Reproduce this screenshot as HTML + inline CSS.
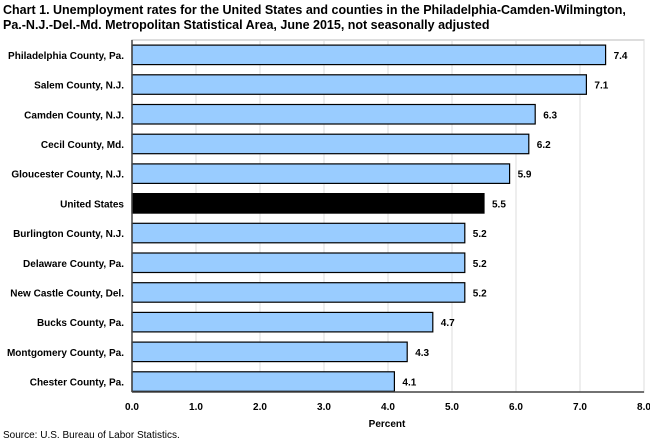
<!DOCTYPE html>
<html><head><meta charset="utf-8"><style>
body{margin:0;background:#fff;font-family:"Liberation Sans",Arial,sans-serif;}
svg text{font-family:"Liberation Sans",Arial,sans-serif;}
</style></head><body>
<svg width="650" height="441" xmlns="http://www.w3.org/2000/svg">
<text x="3" y="14" font-size="12.5" font-weight="bold" fill="#000">Chart 1. Unemployment rates for the United States and counties in the Philadelphia-Camden-Wilmington,</text>
<text x="3" y="29" font-size="12.5" font-weight="bold" fill="#000">Pa.-N.J.-Del.-Md. Metropolitan Statistical Area, June 2015, not seasonally adjusted</text>
<g id="plot"></g>
<text x="387" y="427" font-size="10" font-weight="bold" text-anchor="middle">Percent</text>
<text x="3" y="438" font-size="10">Source: U.S. Bureau of Labor Statistics.</text>
</svg>
<script>
const categories=["Philadelphia County, Pa.","Salem County, N.J.","Camden County, N.J.","Cecil County, Md.","Gloucester County, N.J.","United States","Burlington County, N.J.","Delaware County, Pa.","New Castle County, Del.","Bucks County, Pa.","Montgomery County, Pa.","Chester County, Pa."];
const values=[7.4,7.1,6.3,6.2,5.9,5.5,5.2,5.2,5.2,4.7,4.3,4.1];
const ticks=[0,1,2,3,4,5,6,7,8];
const tickLabels=["0.0","1.0","2.0","3.0","4.0","5.0","6.0","7.0","8.0"];
const ns="http://www.w3.org/2000/svg";
const g=document.getElementById('plot');
const x0=132,x1=644,yTop=40,yBottom=392,band=29.7,barH=19.5;
const xs=v=>x0+(v-0)/(8-0)*(x1-x0);
const ys=i=>yTop+band*(i+0.5);
function mk(t,a){const e=document.createElementNS(ns,t);for(const k in a)e.setAttribute(k,a[k]);g.appendChild(e);return e;}
let r=mk('rect',{x:x0,y:yTop,width:x1-x0,height:yBottom-yTop,fill:'#fff',stroke:'#bbb'});


ticks.forEach((t,i)=>{
 const l=mk('line',{x1:xs(t),x2:xs(t),y1:yTop,y2:yBottom,stroke:'#ddd'});
 
 
 const tx=mk('text',{x:xs(t),y:yBottom+18,'font-size':10,'font-weight':'bold','text-anchor':'middle'});
 tx.textContent=tickLabels[i];
 
 
});
categories.forEach((c,i)=>{
 const y=ys(i);
 const b=mk('rect',{x:x0,y:y-barH/2,width:xs(values[i])-x0,height:barH,fill:c==="United States"?'#000':'#99ccff',stroke:'#000','stroke-width':1.2});
 
 
 const lb=mk('text',{x:x0-8,y:y+4,'font-size':10,'font-weight':'bold','text-anchor':'end'});
 lb.textContent=c;
 
 
 const vl=mk('text',{x:xs(values[i])+8,y:y+4,'font-size':10,'font-weight':'bold'});
 vl.textContent=values[i].toFixed(1);
 
 
});
const ax=mk('line',{x1:x0,x2:x1,y1:yBottom,y2:yBottom,stroke:'#444','stroke-width':1.5});


const ay=mk('line',{x1:x0,x2:x0,y1:yTop,y2:yBottom,stroke:'#444','stroke-width':1.5});


</script>
</body></html>
